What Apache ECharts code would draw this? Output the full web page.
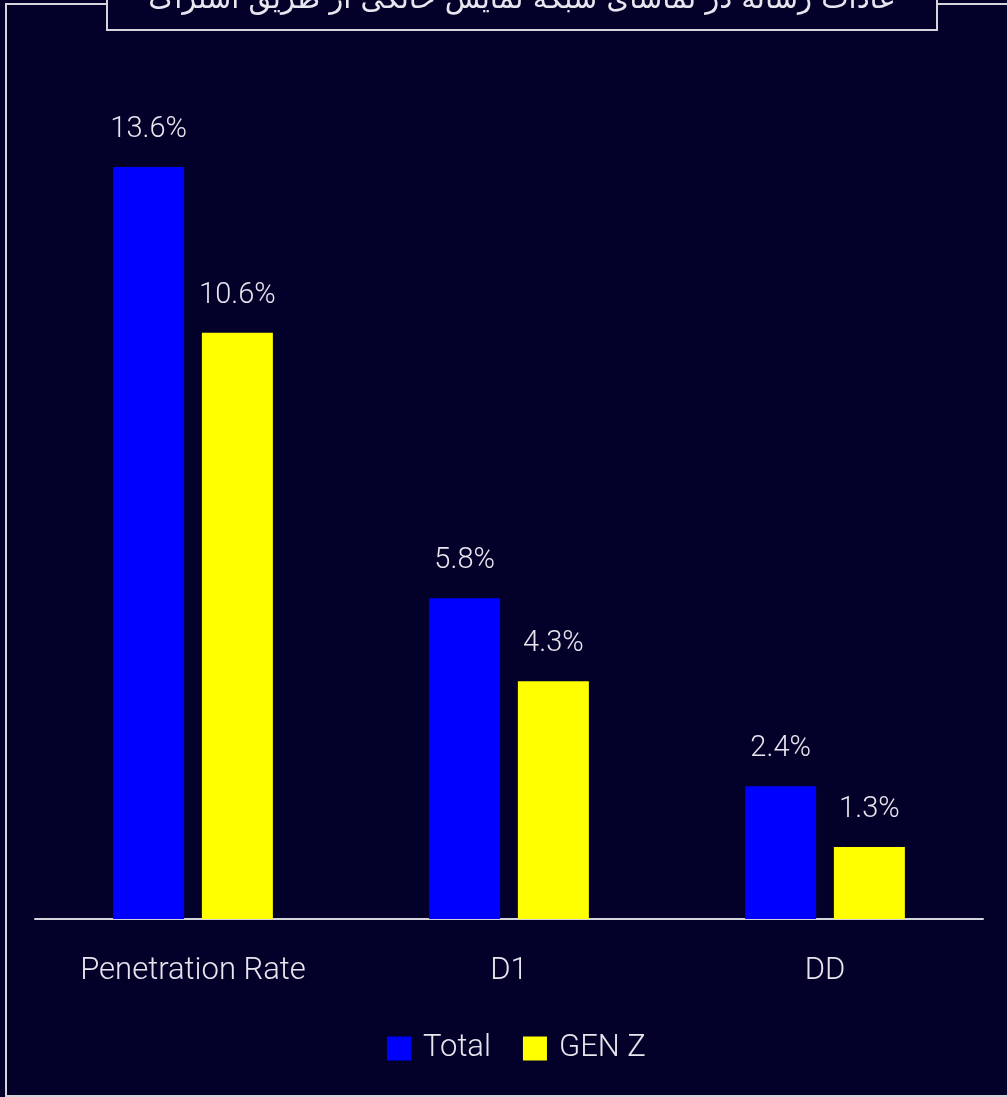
<!DOCTYPE html>
<html>
<head>
<meta charset="utf-8">
<style>
  html, body { margin: 0; padding: 0; background: #03012a; }
  #chart { width: 1007px; height: 1097px; }
</style>
<script src="https://cdn.jsdelivr.net/npm/echarts@6/dist/echarts.min.js"></script>
</head>
<body>
<div id="chart"></div>
<script>
// Subscription VOD viewing habits: reach and daily usage
const categories = ['Penetration Rate', 'D1', 'DD'];
const seriesNames = ['Total', 'GEN Z'];
const totalValues = [13.6, 5.8, 2.4];
const genZValues = [10.6, 4.3, 1.3];
const titleText = 'عادات رسانه در تماشای شبکه نمایش خانگی از طریق اشتراک';

const BG = '#03012a';
const LINE = '#d4d4dc';
const TEXT = '#e6e6ee';
const FONT = 'Roboto, "DejaVu Sans", sans-serif';

const chart = echarts.init(document.getElementById('chart'), null, { renderer: 'canvas' });

const labelStyle = {
  show: true,
  position: 'top',
  distance: 23,
  color: TEXT,
  fontFamily: FONT,
  fontWeight: 300,
  fontSize: 29,
  formatter: p => p.value.toFixed(1) + '%'
};

chart.setOption({
  backgroundColor: BG,
  animation: false,
  grid: { left: 35, right: 24, top: 89.5, bottom: 1097 - 919 },
  legend: {
    bottom: 28,
    left: 382,
    itemWidth: 24,
    itemHeight: 24,
    itemGap: 32,
    icon: 'rect',
    textStyle: { color: TEXT, fontFamily: FONT, fontWeight: 300, fontSize: 31, padding: [0, 0, 20, 7] },
    data: seriesNames
  },
  xAxis: {
    type: 'category',
    data: categories,
    axisLine: { lineStyle: { color: LINE, width: 2 } },
    axisTick: { show: false },
    axisLabel: { color: TEXT, fontFamily: FONT, fontWeight: 300, fontSize: 31, margin: 37 }
  },
  yAxis: {
    type: 'value',
    min: 0,
    max: 15,
    show: false,
    splitLine: { show: false }
  },
  series: [
    {
      name: seriesNames[0],
      type: 'bar',
      data: totalValues,
      barWidth: 71,
      barGap: '25%',
      itemStyle: { color: '#0000ff' },
      label: labelStyle
    },
    {
      name: seriesNames[1],
      type: 'bar',
      data: genZValues,
      barWidth: 71,
      itemStyle: { color: '#ffff00' },
      label: labelStyle
    }
  ],
  graphic: [
    {
      type: 'rect',
      silent: true,
      z: -1,
      shape: { x: 6, y: 4, width: 1100, height: 1092 },
      style: { fill: 'transparent', stroke: LINE, lineWidth: 2 }
    },
    {
      type: 'rect',
      silent: true,
      z: 1,
      shape: { x: 107, y: -40, width: 830, height: 70 },
      style: { fill: BG, stroke: LINE, lineWidth: 2 }
    },
    {
      type: 'text',
      silent: true,
      z: 2,
      x: 522,
      y: 15,
      style: {
        text: titleText,
        fill: TEXT,
        font: '29px "DejaVu Sans", sans-serif',
        align: 'center',
        verticalAlign: 'bottom'
      }
    }
  ]
});
</script>
</body>
</html>
